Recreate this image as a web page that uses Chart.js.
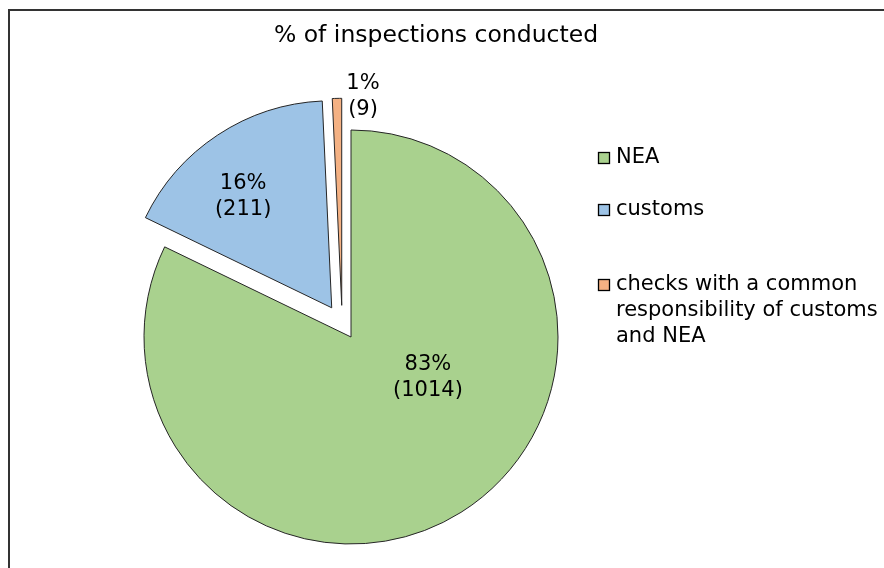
<!DOCTYPE html>
<html>
<head>
<meta charset="utf-8">
<script src="https://cdn.jsdelivr.net/npm/chart.js@4.4.1/dist/chart.umd.min.js"></script>
<style>
  html, body { margin: 0; padding: 0; background: #fff; }
  #wrap { width: 884px; height: 568px; }
</style>
</head>
<body>
<div id="wrap"><canvas id="chart" width="884" height="568"></canvas></div>
<script>
const titleText = "% of inspections conducted";
const categories = ["NEA", "customs", "checks with a common responsibility of customs and NEA"];
const counts = [1014, 211, 9];
const percentLabels = ["83%", "16%", "1%"];
const sliceColors = ["#A9D18E", "#9DC3E6", "#F4B183"];

const FONT = '"DejaVu Sans", Verdana, sans-serif';

// exploded slices: distance in px, and a small turn (deg) off the mid angle
const explode = [[0, 0], [35, 0], [33, -15]];
// label anchors: [angle from 12 o'clock, clockwise, deg; distance as share of radius]
const labelPos = [[118, 0.421], [-37.5, 0.856], [2.86, 1.163]];
// legend rows (y of first line)
const legendY = [158, 210, 285];

function wrapText(ctx, text, maxWidth) {
  const words = text.split(" ");
  const lines = [];
  let line = "";
  words.forEach((w) => {
    const test = line ? line + " " + w : w;
    if (ctx.measureText(test).width > maxWidth && line) {
      lines.push(line);
      line = w;
    } else {
      line = test;
    }
  });
  if (line) lines.push(line);
  return lines;
}

const decorPlugin = {
  id: "decor",
  afterDatasetsUpdate(chart) {
    // move exploded slices out like Excel does (no radius change)
    chart.getDatasetMeta(0).data.forEach((arc, i) => {
      const [dist, turn] = explode[i];
      if (!dist) return;
      const mid = (arc.startAngle + arc.endAngle) / 2 + (turn * Math.PI) / 180;
      arc.x += Math.cos(mid) * dist;
      arc.y += Math.sin(mid) * dist;
    });
  },
  beforeDraw(chart) {
    const ctx = chart.ctx;
    ctx.save();
    ctx.fillStyle = "#fff";
    ctx.fillRect(0, 0, chart.width, chart.height);
    ctx.strokeStyle = "#333";
    ctx.lineWidth = 2;
    ctx.strokeRect(9, 10, chart.width + 20, chart.height + 20);
    ctx.restore();
  },
  afterDraw(chart) {
    const ctx = chart.ctx;
    const area = chart.chartArea;
    const cx = (area.left + area.right) / 2;
    const cy = (area.top + area.bottom) / 2;
    ctx.save();
    ctx.fillStyle = "#000";
    ctx.textAlign = "center";
    ctx.textBaseline = "middle";

    ctx.font = "23.5px " + FONT;
    ctx.fillText(titleText, 436, 36);

    // slice labels
    ctx.font = "21px " + FONT;
    const meta = chart.getDatasetMeta(0);
    meta.data.forEach((arc, i) => {
      const p = labelPos[i];
      const a = ((p[0] - 90) * Math.PI) / 180;
      const r = arc.outerRadius * p[1];
      const x = cx + Math.cos(a) * r;
      const y = cy + Math.sin(a) * r;
      ctx.fillText(percentLabels[i], x, y - 13);
      ctx.fillText("(" + counts[i] + ")", x, y + 13);
    });

    // legend
    ctx.textAlign = "left";
    const colors = chart.data.datasets[0].backgroundColor;
    chart.data.labels.forEach((label, i) => {
      const y0 = legendY[i];
      ctx.fillStyle = colors[i];
      ctx.fillRect(598.5, y0 - 5.5, 11, 11);
      ctx.strokeStyle = "#000";
      ctx.lineWidth = 1.3;
      ctx.strokeRect(598.5, y0 - 5.5, 11, 11);
      ctx.fillStyle = "#000";
      const lines = wrapText(ctx, label, 272);
      lines.forEach((ln, j) => {
        ctx.fillText(ln, 616, y0 + j * 26);
      });
    });
    ctx.restore();
  },
};

new Chart(document.getElementById("chart"), {
  type: "pie",
  data: {
    labels: categories,
    datasets: [
      {
        data: counts,
        backgroundColor: sliceColors,
        borderColor: "#262626",
        borderWidth: 1,
        hoverOffset: 0,
      },
    ],
  },
  options: {
    responsive: false,
    animation: false,
    events: [],
    radius: 207,
    layout: {
      padding: { left: 0, right: 182, top: 106, bottom: 0 },
    },
    plugins: {
      legend: { display: false },
      title: { display: false },
      tooltip: { enabled: false },
    },
  },
  plugins: [decorPlugin],
});
</script>
</body>
</html>
